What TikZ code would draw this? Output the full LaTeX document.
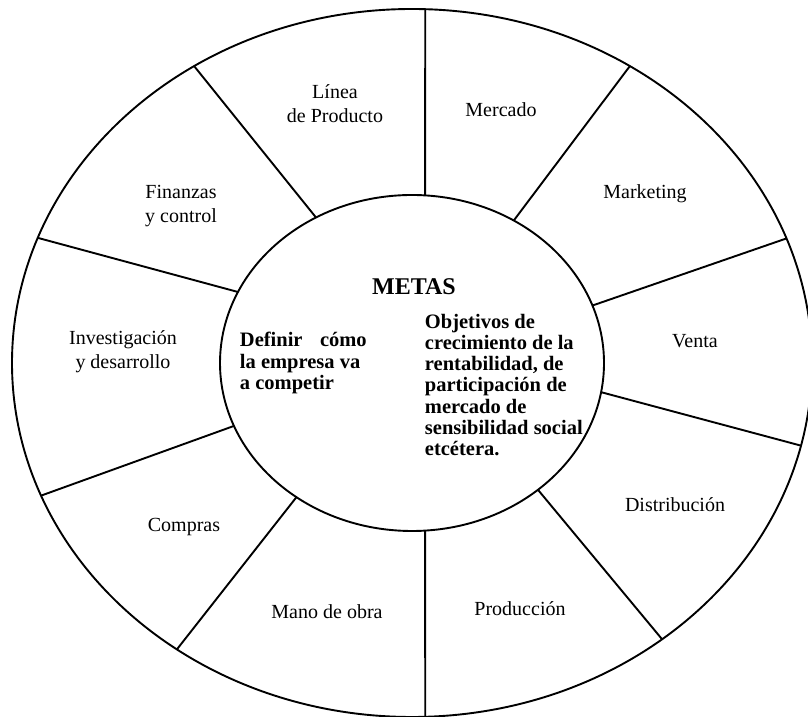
\documentclass[tikz,border=0pt]{standalone}
\usepackage{fontspec}
\setmainfont{Liberation Serif}
\begin{document}
\begin{tikzpicture}[x=1pt,y=1pt,line width=1.9pt,
  area/.style={align=center,font=\fontsize{20}{24}\selectfont,inner sep=0pt},
  meta/.style={align=left,font=\bfseries\fontsize{20.5}{21.3}\selectfont,inner sep=0pt,anchor=west}]
\useasboundingbox (0,0) rectangle (808,717);
\coordinate (c) at (412,354);
\draw (c) ellipse [x radius=400, y radius=354];
\draw (c) ellipse [x radius=192, y radius=168];
% divisiones entre las areas
\foreach \a/\b [count=\i] in {86.1/88.1, 58/57, 20/20.6, -10/-13.5, -49/-51.3,
    -86.1/-88.1, 233/234, 202/202, 155/159.3, 120/123}
{
  \path (c) ++(\a:192 and 168) coordinate (in\i);
  \path (c) ++(\b:400 and 354) coordinate (out\i);
  \draw (in\i) -- (out\i);
}
% areas
\node[area] (linea) at (335,613) {Línea\\de Producto};
\node[area] (mercado) at (501,607) {Mercado};
\node[area] (marketing) at (645,523) {Marketing};
\node[area] (venta) at (695,376) {Venta};
\node[area] (distrib) at (675,212) {Distribución};
\node[area] (produc) at (520,108) {Producción};
\node[area] (mano) at (327,105) {Mano de obra};
\node[area] (compras) at (184,190) {Compras};
\node[area] (invest) at (123,365) {Investigación\\y desarrollo};
\node[area] (finanzas) at (181,511) {Finanzas\\y control};
% centro
\node[font=\bfseries\fontsize{24}{28}\selectfont,inner sep=0pt] (metas) at (414,430) {METAS};
\node[meta] (definir) at (239,354) {Definir\hspace{0.85em}cómo\\la empresa va\\a competir};
\node[meta] (objetivos) at (424,332) {Objetivos de\\crecimiento de la\\rentabilidad, de\\participación de\\mercado de\\sensibilidad social\\etcétera.};
\end{tikzpicture}
\end{document}
